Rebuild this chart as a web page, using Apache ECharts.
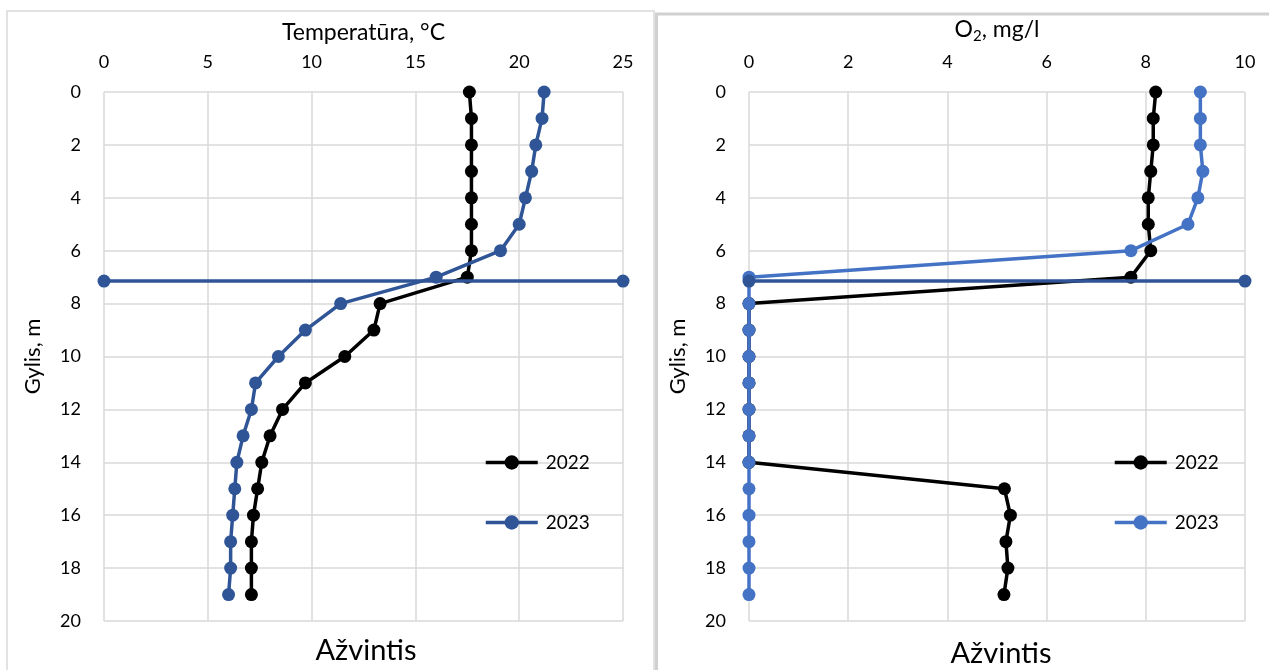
<!DOCTYPE html>
<html>
<head>
<meta charset="utf-8">
<script src="https://cdn.jsdelivr.net/npm/echarts@6/dist/echarts.min.js"></script>
<style>
  html, body { margin: 0; padding: 0; background: #fff; }
  #chart { width: 1269px; height: 670px; }
</style>
</head>
<body>
<div id="chart"></div>
<script>
// Depth profiles, Ažvintis lake
const depths = [0, 1, 2, 3, 4, 5, 6, 7, 8, 9, 10, 11, 12, 13, 14, 15, 16, 17, 18, 19];

// Water temperature, °C
const temp2022 = [17.6, 17.7, 17.7, 17.7, 17.7, 17.7, 17.7, 17.5, 13.3, 13.0, 11.6, 9.7, 8.6, 8.0, 7.6, 7.4, 7.2, 7.1, 7.1, 7.1];
const temp2023 = [21.2, 21.1, 20.8, 20.6, 20.3, 20.0, 19.1, 16.0, 11.4, 9.7, 8.4, 7.3, 7.1, 6.7, 6.4, 6.3, 6.2, 6.1, 6.1, 6.0];

// Dissolved oxygen, mg/l
const o2_2022 = [8.2, 8.15, 8.15, 8.1, 8.05, 8.05, 8.1, 7.7, 0, 0, 0, 0, 0, 0, 0, 5.15, 5.27, 5.18, 5.22, 5.14];
const o2_2023 = [9.1, 9.1, 9.1, 9.15, 9.05, 8.85, 7.7, 0, 0, 0, 0, 0, 0, 0, 0, 0, 0, 0, 0, 0];

// Thermocline marker depth (m) drawn across each panel
const markerDepth = 7.15;
const tempRange = [0, 25];
const o2Range = [0, 10];
const depthRange = [0, 20];
const years = ['2022', '2023'];

const FONT = 'Lato, "Open Sans", sans-serif';
const GRID_COLOR = '#d9d9d9';
const BLACK = '#000000';
const DARK_BLUE = '#2F5597';
const LIGHT_BLUE = '#4472C4';

const pairs = (xs) => xs.map((x, i) => [x, depths[i]]);

function lineSeries(name, values, color, axisIdx, z) {
  return {
    name: name,
    type: 'line',
    xAxisIndex: axisIdx,
    yAxisIndex: axisIdx,
    data: pairs(values),
    symbol: 'circle',
    symbolSize: 13,
    lineStyle: { color: color, width: 3.5 },
    itemStyle: { color: color },
    emphasis: { disabled: true },
    animation: false,
    z: z
  };
}

function markerLine(range, axisIdx, name) {
  return {
    name: name,
    type: 'line',
    xAxisIndex: axisIdx,
    yAxisIndex: axisIdx,
    data: [[range[0], markerDepth], [range[1], markerDepth]],
    symbol: 'circle',
    symbolSize: 13,
    lineStyle: { color: DARK_BLUE, width: 3.5 },
    itemStyle: { color: DARK_BLUE },
    emphasis: { disabled: true },
    animation: false,
    z: 5
  };
}

function xAxisCfg(range, interval, name, gridIdx, rich) {
  return {
    type: 'value',
    gridIndex: gridIdx,
    position: 'top',
    min: range[0],
    max: range[1],
    interval: interval,
    name: name,
    nameLocation: 'middle',
    nameGap: 48,
    nameTextStyle: { fontFamily: FONT, fontSize: 23, color: '#000', rich: rich },
    axisLine: { show: false },
    axisTick: { show: false },
    axisLabel: { fontFamily: FONT, fontSize: 18, color: '#000', margin: 21 },
    splitLine: { show: true, lineStyle: { color: GRID_COLOR, width: 1.5 } }
  };
}

function yAxisCfg(gridIdx) {
  return {
    type: 'value',
    gridIndex: gridIdx,
    inverse: true,
    min: depthRange[0],
    max: depthRange[1],
    interval: 2,
    name: 'Gylis, m',
    nameLocation: 'middle',
    nameGap: 60,
    nameRotate: 90,
    nameTextStyle: { fontFamily: FONT, fontSize: 22, color: '#000' },
    axisLine: { show: false },
    axisTick: { show: false },
    axisLabel: { fontFamily: FONT, fontSize: 18, color: '#000', margin: 23 },
    splitLine: { show: true, lineStyle: { color: GRID_COLOR, width: 1.5 } }
  };
}

function legendCfg(left, names) {
  return {
    left: left,
    top: 448,
    orient: 'vertical',
    itemWidth: 52,
    itemHeight: 18,
    itemGap: 41,
    data: names,
    formatter: (n) => n.split(' ').pop(),
    lineStyle: { width: 3.5 },
    textStyle: { fontFamily: FONT, fontSize: 19, color: '#000', padding: [0, 0, 0, 3] },
    selectedMode: false
  };
}

const chart = echarts.init(document.getElementById('chart'), null, { renderer: 'canvas' });

chart.setOption({
  backgroundColor: '#fff',
  animation: false,
  graphic: [
    { type: 'rect', shape: { x: 7, y: 11, width: 647, height: 680 }, style: { fill: 'none', stroke: '#d9d9d9', lineWidth: 1.5 }, silent: true },
    { type: 'rect', shape: { x: 656.5, y: 14, width: 640, height: 680 }, style: { fill: 'none', stroke: '#d0d0d0', lineWidth: 3 }, silent: true }
  ],
  title: [
    { text: 'Ažvintis', left: 361, top: 631, textAlign: 'center', textStyle: { fontFamily: FONT, fontSize: 29, fontWeight: 'normal', color: '#000' } },
    { text: 'Ažvintis', left: 996, top: 634, textAlign: 'center', textStyle: { fontFamily: FONT, fontSize: 29, fontWeight: 'normal', color: '#000' } }
  ],
  legend: [
    legendCfg(479, years.map((y) => 'Temperatūra ' + y)),
    legendCfg(1108, years.map((y) => 'O2 ' + y))
  ],
  grid: [
    { left: 104, top: 92, width: 519, height: 529 },
    { left: 749, top: 92, width: 496, height: 529 }
  ],
  xAxis: [
    xAxisCfg(tempRange, 5, 'Temperatūra, °C', 0),
    xAxisCfg(o2Range, 2, 'O{sub|2}, mg/l', 1, {
      sub: { fontFamily: FONT, fontSize: 15, color: '#000', verticalAlign: 'bottom', padding: [14, 0, 0, 0] }
    })
  ],
  yAxis: [yAxisCfg(0), yAxisCfg(1)],
  series: [
    lineSeries('Temperatūra 2022', temp2022, BLACK, 0, 3),
    lineSeries('Temperatūra 2023', temp2023, DARK_BLUE, 0, 4),
    markerLine(tempRange, 0, 'Temperatūra riba'),
    lineSeries('O2 2022', o2_2022, BLACK, 1, 3),
    lineSeries('O2 2023', o2_2023, LIGHT_BLUE, 1, 4),
    markerLine(o2Range, 1, 'O2 riba')
  ]
});
</script>
</body>
</html>
